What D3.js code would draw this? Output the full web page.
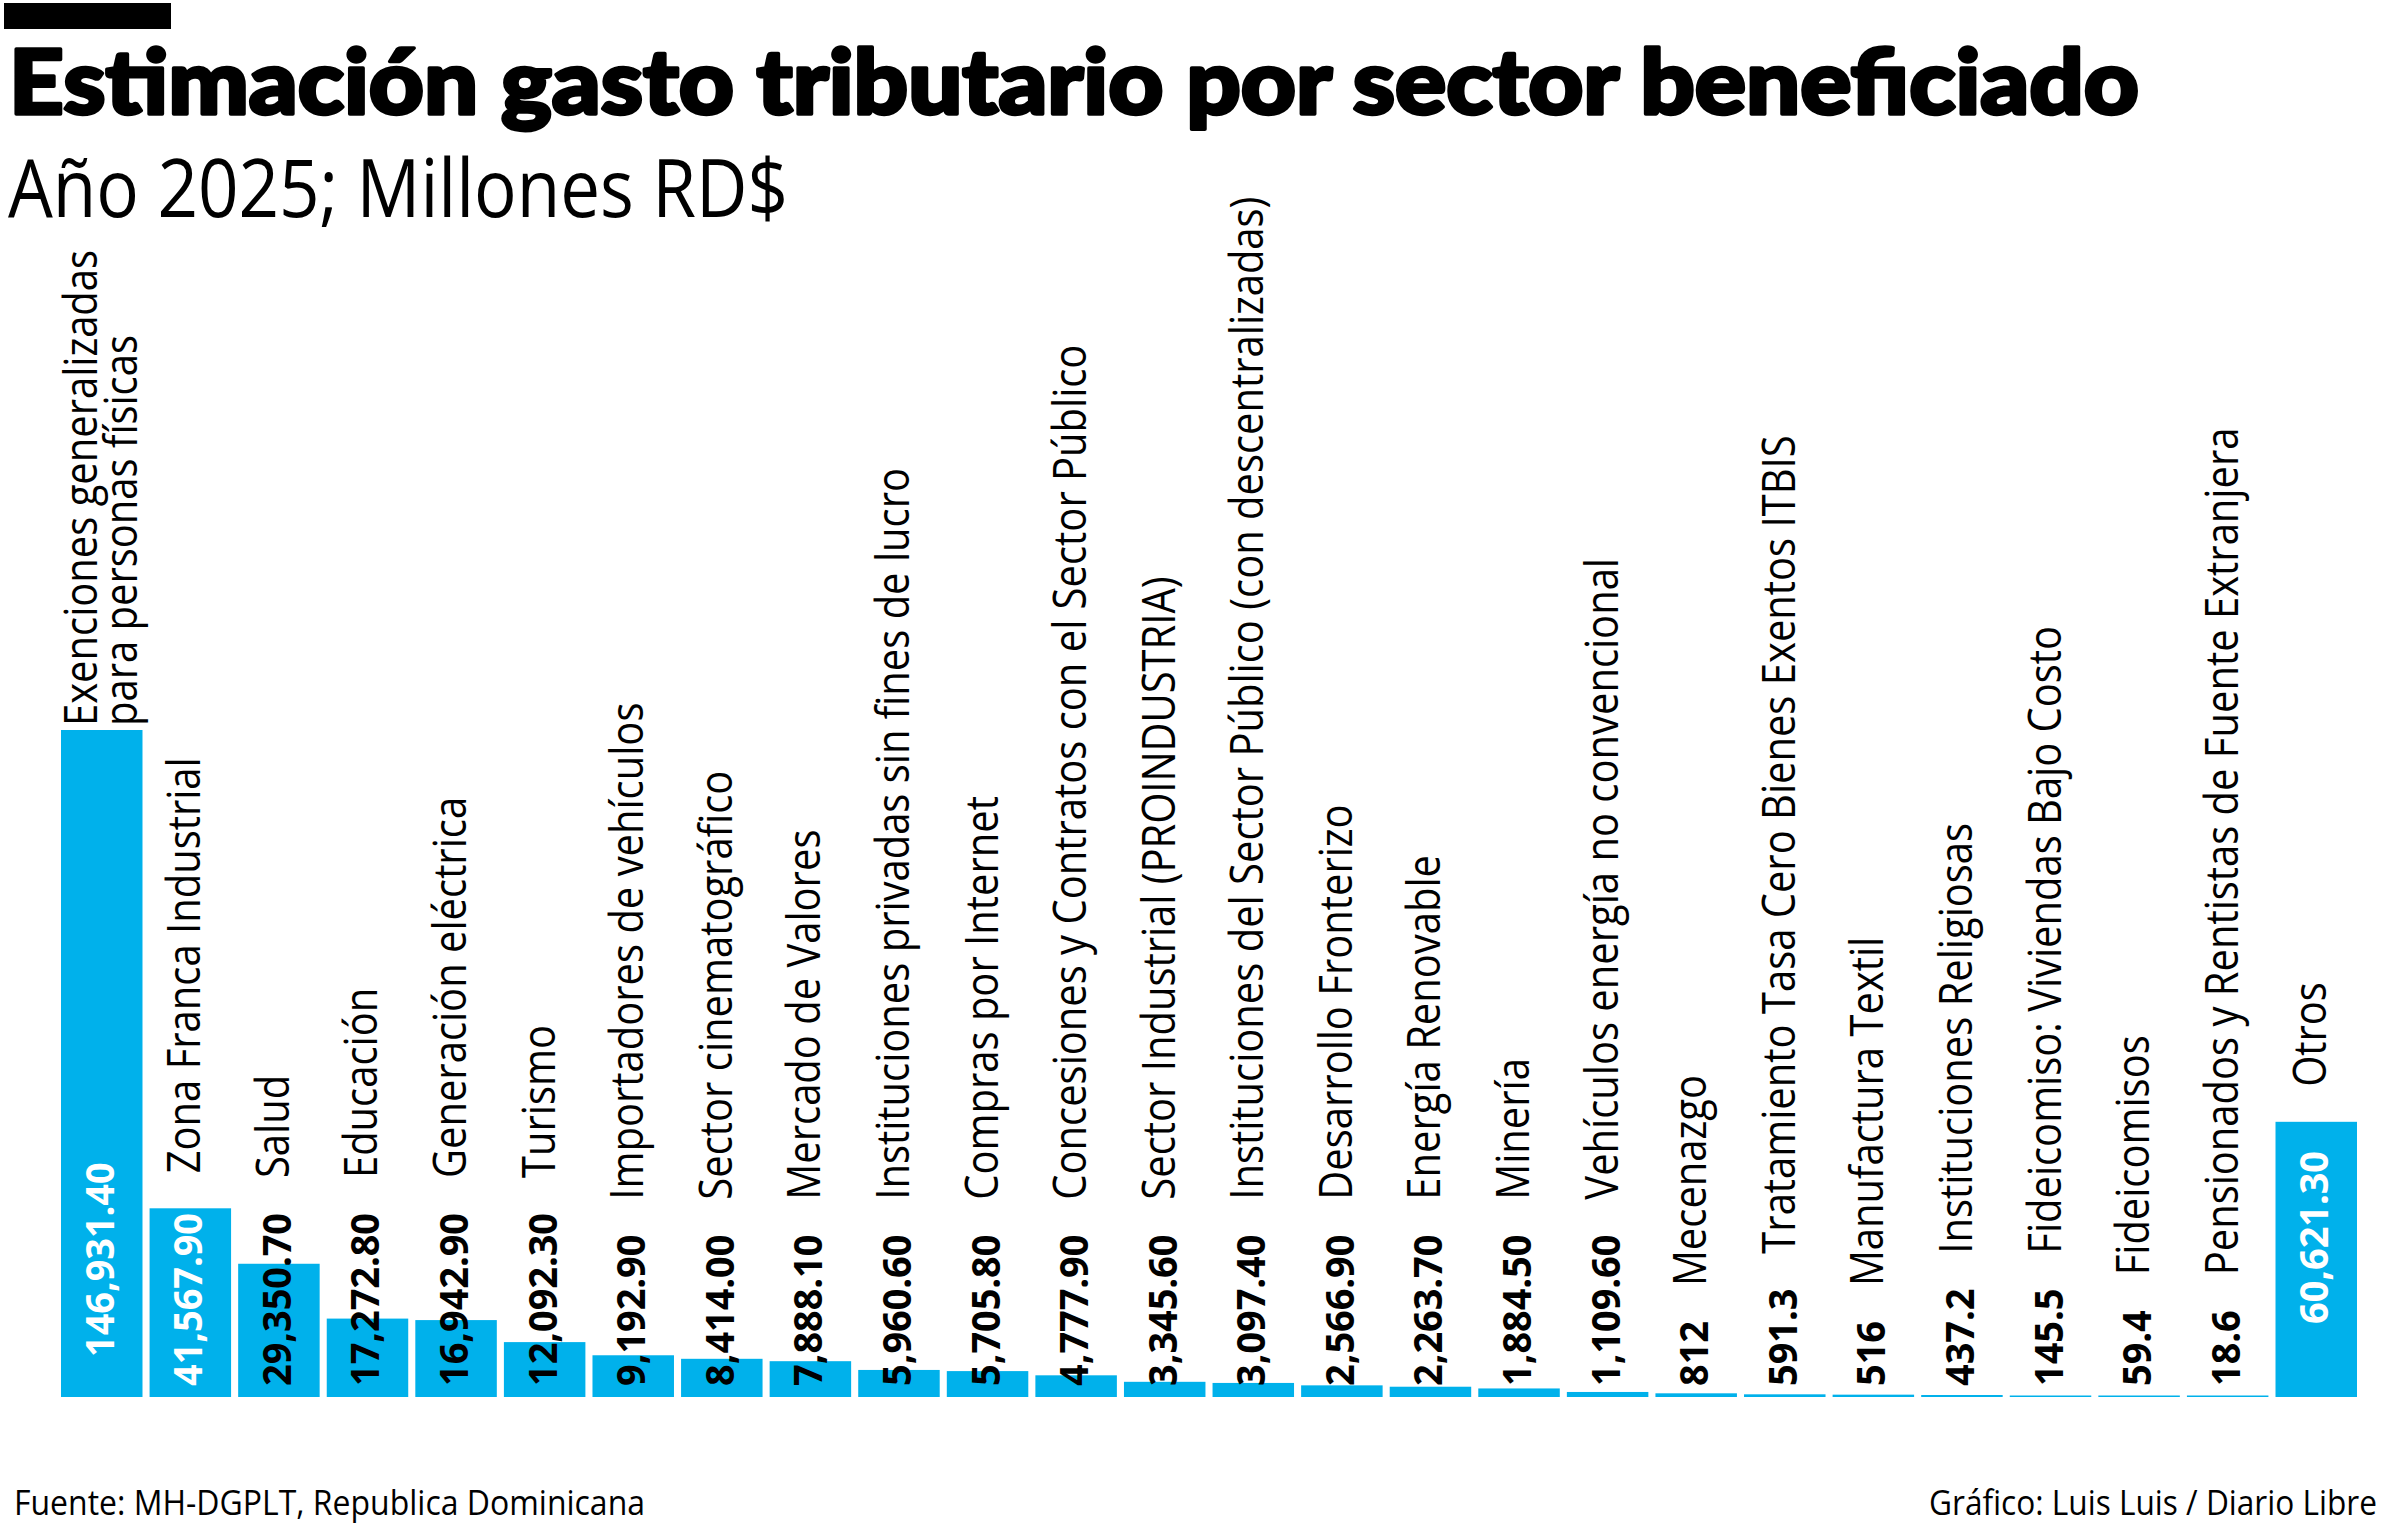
<!DOCTYPE html>
<html>
<head>
<meta charset="utf-8">
<script src="https://d3js.org/d3.v7.min.js"></script>
<style>
  body { margin: 0; background: #fff; }
</style>
</head>
<body>
<div id="chart"></div>
<script>
// ---------------------- data ----------------------
var categories = [
  "Exenciones generalizadas|para personas físicas",
  "Zona Franca Industrial",
  "Salud",
  "Educación",
  "Generación eléctrica",
  "Turismo",
  "Importadores de vehículos",
  "Sector cinematográfico",
  "Mercado de Valores",
  "Instituciones privadas sin fines de lucro",
  "Compras por Internet",
  "Concesiones y Contratos con el Sector Público",
  "Sector Industrial (PROINDUSTRIA)",
  "Instituciones del Sector Público (con descentralizadas)",
  "Desarrollo Fronterizo",
  "Energía Renovable",
  "Minería",
  "Vehículos energía no convencional",
  "Mecenazgo",
  "Tratamiento Tasa Cero Bienes Exentos ITBIS",
  "Manufactura Textil",
  "Instituciones Religiosas",
  "Fideicomiso: Viviendas Bajo Costo",
  "Fideicomisos",
  "Pensionados y Rentistas de Fuente Extranjera",
  "Otros"
];

var values = [
  146931.40, 41567.90, 29350.70, 17272.80, 16942.90, 12092.30, 9192.90,
  8414.00, 7888.10, 5960.60, 5705.80, 4777.90, 3345.60, 3097.40, 2566.90,
  2263.70, 1884.50, 1109.60, 812, 591.3, 516, 437.2, 145.5, 59.4, 18.6,
  60621.30
];

var titleText = "Estimación gasto tributario por sector beneficiado";
var subtitleText = "Año 2025; Millones RD$";
var sourceText = "Fuente: MH-DGPLT, Republica Dominicana";
var creditText = "Gráfico: Luis Luis / Diario Libre";

// ---------------------- svg ----------------------
var W = 2400, H = 1531;
var svg = d3.select("#chart")
    .append("svg")
    .attr("width", W)
    .attr("height", H)
    .style("display", "block");

var blue = "#00b1eb";
var catFont = { family: "'Open Sans', 'Noto Sans', sans-serif", size: 46, weight: 400 };
var valFont = { family: "'Open Sans', 'Noto Sans', sans-serif", size: 40, weight: 700 };

// measure natural text width, used to squeeze the fonts to a condensed look
function measure(str, f) {
  var t = svg.append("text")
      .style("font-family", f.family)
      .style("font-size", f.size + "px")
      .style("font-weight", f.weight)
      .text(str);
  var w = t.node().getComputedTextLength();
  t.remove();
  return w;
}
var catSX = 416 / measure("Zona Franca Industrial", catFont);
var valSX = 173 / measure("41,567.90", valFont);

// ---------------------- header ----------------------
svg.append("rect")
    .attr("x", 4).attr("y", 3)
    .attr("width", 167).attr("height", 26)
    .attr("fill", "#000");

svg.append("text")
    .attr("x", 9).attr("y", 114)
    .attr("textLength", 2130)
    .attr("lengthAdjust", "spacingAndGlyphs")
    .style("font-family", "Lato, 'Open Sans', sans-serif")
    .style("font-weight", 900)
    .style("font-size", "90px")
    .attr("fill", "#000")
    .attr("stroke", "#000")
    .attr("stroke-width", 3.5)
    .attr("stroke-linejoin", "round")
    .text(titleText);

svg.append("text")
    .attr("x", 8).attr("y", 217)
    .attr("textLength", 780)
    .attr("lengthAdjust", "spacingAndGlyphs")
    .style("font-family", "'Open Sans', sans-serif")
    .style("font-weight", 400)
    .style("font-size", "80px")
    .attr("fill", "#000")
    .text(subtitleText);

// ---------------------- bars ----------------------
var x = d3.scaleBand()
    .domain(categories)
    .range([61, 2357])
    .paddingInner(0.08);

var y = d3.scaleLinear()
    .domain([0, d3.max(values)])
    .range([1397, 730]);

var data = categories.map(function (c, i) { return { cat: c, val: values[i], i: i }; });

svg.selectAll("rect.bar")
    .data(data)
    .enter()
    .append("rect")
    .attr("class", "bar")
    .attr("x", function (d) { return x(d.cat); })
    .attr("width", x.bandwidth())
    .attr("y", function (d) { return Math.min(y(d.val), y(0) - 1.5); })
    .attr("height", function (d) { return Math.max(1.5, y(0) - y(d.val)); })
    .attr("fill", blue);

// ---------------------- labels ----------------------
var fmt = d3.format(",.2f");
function valueLabel(v) { return v >= 1000 ? fmt(v) : String(v); }

// label lift above the baseline; the two big bars carry theirs higher up
var lift = { 0: 40, 25: 73 };
var gap = 35;

data.forEach(function (d) {
  var cx = x(d.cat) + x.bandwidth() / 2;
  var barTop = y(d.val);
  var start = y(0) - (lift[d.i] || 11);

  var vt = svg.append("text")
      .attr("transform", "translate(" + (cx + 12) + "," + start + ") rotate(-90) scale(" + valSX + ",1)")
      .style("font-family", valFont.family)
      .style("font-size", valFont.size + "px")
      .style("font-weight", valFont.weight)
      .text(valueLabel(d.val));
  var vLen = vt.node().getComputedTextLength() * valSX;
  var vTop = start - vLen;
  vt.attr("fill", vTop >= barTop ? "#fff" : "#000");

  var lines = d.cat.split("|");
  var catStart = Math.min(barTop, vTop) - (lines.length > 1 ? 4 : gap);
  lines.forEach(function (ln, k) {
    var bx = lines.length > 1 ? cx - 5 + k * 40 : cx + 10;
    svg.append("text")
        .attr("transform", "translate(" + bx + "," + catStart + ") rotate(-90) scale(" + catSX + ",1)")
        .style("font-family", catFont.family)
        .style("font-size", catFont.size + "px")
        .style("font-weight", catFont.weight)
        .attr("fill", "#000")
        .text(ln);
  });
});

// ---------------------- footer ----------------------
svg.append("text")
    .attr("x", 14).attr("y", 1515)
    .attr("textLength", 631)
    .attr("lengthAdjust", "spacingAndGlyphs")
    .style("font-family", "'Open Sans', sans-serif")
    .style("font-size", "35px")
    .attr("fill", "#000")
    .text(sourceText);

svg.append("text")
    .attr("x", 2377).attr("y", 1515)
    .attr("text-anchor", "end")
    .attr("textLength", 448)
    .attr("lengthAdjust", "spacingAndGlyphs")
    .style("font-family", "'Open Sans', sans-serif")
    .style("font-size", "35px")
    .attr("fill", "#000")
    .text(creditText);
</script>
</body>
</html>
